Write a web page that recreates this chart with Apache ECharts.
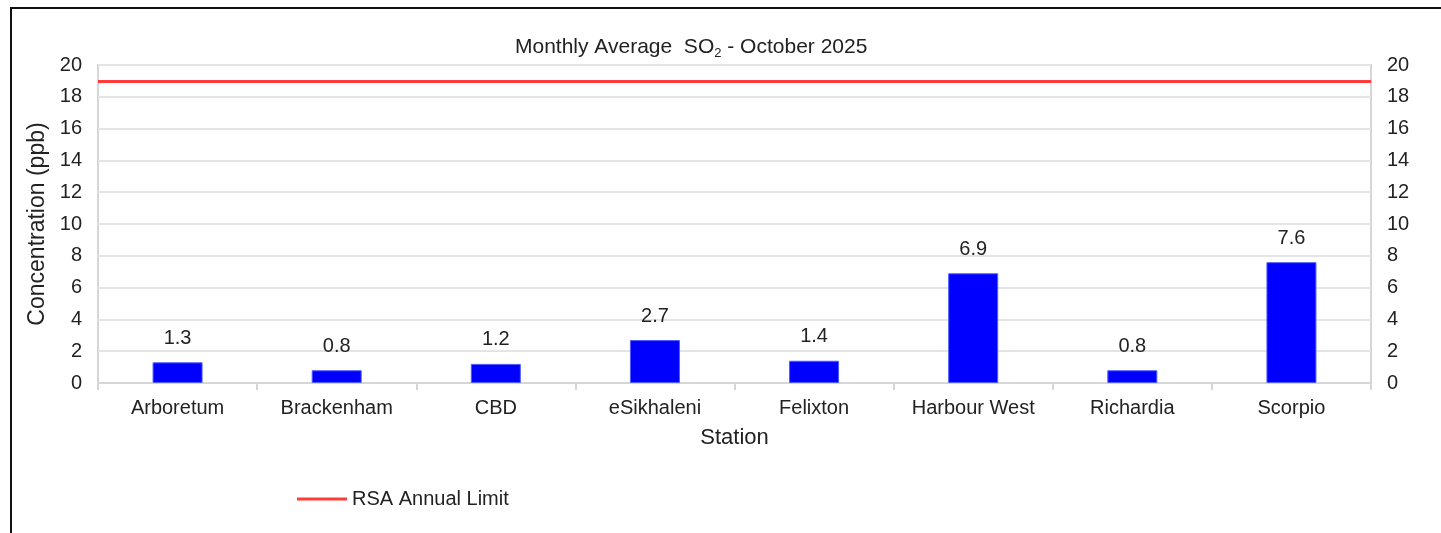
<!DOCTYPE html>
<html>
<head>
<meta charset="utf-8">
<script src="https://cdn.jsdelivr.net/npm/echarts@6/dist/echarts.min.js"></script>
<style>
  html, body { margin: 0; padding: 0; background: #fff; }
  #chart_1 { width: 1441px; height: 533px; }
</style>
</head>
<body>
<div id="chart_1"></div>
<script>
var stations = ['Arboretum', 'Brackenham', 'CBD', 'eSikhaleni', 'Felixton', 'Harbour West', 'Richardia', 'Scorpio'];
var so2Values = [1.3, 0.8, 1.2, 2.7, 1.4, 6.9, 0.8, 7.6];
var annualLimit = 19;
var yTicks = { min: 0, max: 20, interval: 2 };

var myChart = echarts.init(document.getElementById('chart_1'));
var font = 'Liberation Sans, Arial, sans-serif';
var textColor = '#222';

var valueAxis = function (pos) {
    return {
        type: 'value',
        position: pos,
        min: yTicks.min,
        max: yTicks.max,
        interval: yTicks.interval,
        axisLine: { show: false },
        axisTick: { show: false },
        axisLabel: { color: textColor, fontSize: 20, fontFamily: font, margin: 16 },
        splitLine: { show: pos === 'left', lineStyle: { color: '#e4e4e4', width: 2 } }
    };
};

var left = valueAxis('left');
left.name = 'Concentration (ppb)';
left.nameLocation = 'middle';
left.nameGap = 47;
left.nameTextStyle = { color: textColor, fontSize: 23, fontFamily: font };

var option = {
    animation: false,
    title: {
        text: 'Monthly Average  SO{sub|2} - October 2025',
        left: 510,
        top: 30,
        textStyle: {
            color: textColor, fontSize: 21, fontWeight: 'normal', fontFamily: font,
            rich: { sub: { fontSize: 13, verticalAlign: 'bottom', padding: [12, 0, 0, 0], color: textColor, fontFamily: font } }
        }
    },
    legend: {
        left: 292,
        top: 484,
        itemWidth: 50,
        itemHeight: 3,
        itemGap: 4,
        icon: 'rect',
        data: ['RSA Annual Limit'],
        textStyle: { color: textColor, fontSize: 20, fontFamily: font, padding: [0, 0, 0, 0] }
    },
    grid: {
        left: 98, right: 70, top: 65, bottom: 150,
        show: true, borderColor: '#d6d6d6', borderWidth: 2
    },
    xAxis: {
        type: 'category',
        data: stations,
        name: 'Station',
        nameLocation: 'middle',
        nameGap: 44,
        nameTextStyle: { color: textColor, fontSize: 22, fontFamily: font },
        axisLine: { lineStyle: { color: '#d6d6d6', width: 2 } },
        axisTick: { show: true, interval: 0, length: 7, lineStyle: { color: '#d6d6d6', width: 2 } },
        axisLabel: { interval: 0, color: textColor, fontSize: 20, fontFamily: font, margin: 15 }
    },
    yAxis: [left, valueAxis('right')],
    series: [
        {
            name: 'SO2',
            type: 'bar',
            barWidth: 50,
            data: so2Values,
            itemStyle: { color: '#0000ff', borderColor: '#4d5cff', borderWidth: 1 },
            label: {
                show: true, position: 'top', distance: 14,
                color: textColor, fontSize: 20, fontFamily: font,
                formatter: function (p) { return p.value.toFixed(1); }
            }
        },
        {
            name: 'RSA Annual Limit',
            type: 'line',
            data: [],
            itemStyle: { color: '#ff3b3b' },
            lineStyle: { color: '#ff3b3b', width: 3 },
            markLine: {
                silent: true,
                symbol: 'none',
                label: { show: false },
                lineStyle: { color: '#ff3b3b', width: 3, type: 'solid' },
                data: [{ yAxis: annualLimit }]
            }
        }
    ],
    graphic: [{
        type: 'rect',
        shape: { x: 11, y: 8, width: 1440, height: 540 },
        style: { fill: 'none', stroke: '#111', lineWidth: 2 },
        z: 100
    }]
};

myChart.setOption(option);
window.addEventListener('resize', function () {
    myChart.resize();
});
</script>
</body>
</html>
